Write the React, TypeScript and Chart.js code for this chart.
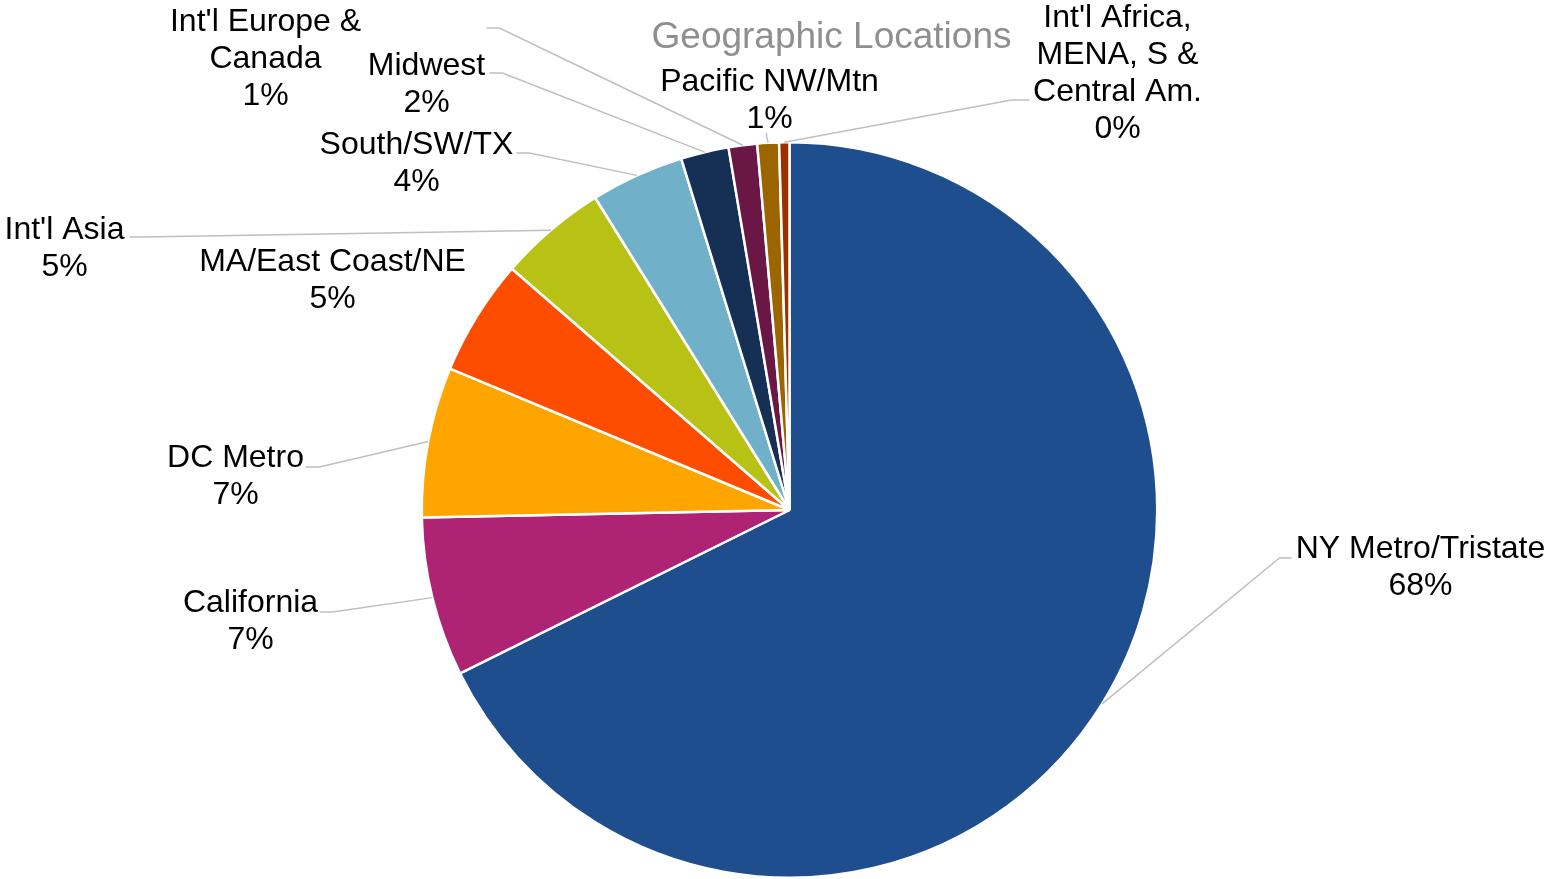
import React, { useEffect, useRef } from "react";
import { Chart, registerables } from "chart.js";

Chart.register(...registerables);

const categories: string[][] = [
  ["NY Metro/Tristate"],
  ["California"],
  ["DC Metro"],
  ["MA/East Coast/NE"],
  ["Int'l Asia"],
  ["South/SW/TX"],
  ["Midwest"],
  ["Int'l Europe &", "Canada"],
  ["Pacific NW/Mtn"],
  ["Int'l Africa,", "MENA, S &", "Central Am."],
];

const shares: number[] = [67.6, 7.0, 6.6, 5.1, 4.75, 4.1, 2.1, 1.25, 0.95, 0.45];

const sliceColors: string[] = [
  "#1F4E8F",
  "#AE2373",
  "#FFA500",
  "#FF4D00",
  "#B8C214",
  "#70B0C8",
  "#152F55",
  "#6A1746",
  "#9C6500",
  "#9C3000",
];

const chartTitle = "Geographic Locations";

// Label layout relative to pie centre: text centre (tx, first line y), leader stub (sx1,sy1)->(sx2,sy2)
type LabelLayout = { tx: number; ty: number; stub: number[] | null };
const labelLayout: LabelLayout[] = [
  { tx: 631, ty: 39, stub: [502, 48, 490, 48] },
  { tx: -539, ty: 93, stub: [-470, 102, -457, 102] },
  { tx: -554, ty: -52, stub: [-484, -43, -470, -43] },
  { tx: -457, ty: -248, stub: null },
  { tx: -725, ty: -280, stub: [-660, -273, -648, -273] },
  { tx: -373, ty: -365, stub: [-273, -357, -260, -357] },
  { tx: -363, ty: -444, stub: [-300, -437, -287, -437] },
  { tx: -524, ty: -488, stub: [-303, -482, -290, -482] },
  { tx: -20, ty: -428, stub: [-23, -377, -23, -374] },
  { tx: 328, ty: -492, stub: [240, -410, 222, -410] },
];

const FONT = "'Liberation Sans', Arial, sans-serif";

const labelPlugin = {
  id: "pieLabels",
  afterDraw(chart: any) {
    const ctx = chart.ctx;
    const meta = chart.getDatasetMeta(0);
    const total = shares.reduce((a, b) => a + b, 0);
    ctx.save();
    // title
    ctx.fillStyle = "#8F8F8F";
    ctx.font = `37px ${FONT}`;
    ctx.textAlign = "center";
    ctx.textBaseline = "middle";
    const first = meta.data[0];
    const cx = first.x;
    const cy = first.y;
    ctx.fillText(chartTitle, cx + 42, cy - 472);

    meta.data.forEach((arc: any, i: number) => {
      const { x, y, startAngle, endAngle, outerRadius } = arc.getProps(
        ["x", "y", "startAngle", "endAngle", "outerRadius"],
        true
      );
      const lay = labelLayout[i];
      const mid = (startAngle + endAngle) / 2;
      const px = x + Math.cos(mid) * outerRadius;
      const py = y + Math.sin(mid) * outerRadius;
      if (lay.stub) {
        ctx.strokeStyle = "#BFBFBF";
        ctx.lineWidth = 1.5;
        ctx.beginPath();
        ctx.moveTo(x + lay.stub[0], y + lay.stub[1]);
        ctx.lineTo(x + lay.stub[2], y + lay.stub[3]);
        ctx.lineTo(px, py);
        ctx.stroke();
      }
      const lines = [...categories[i], Math.round((shares[i] / total) * 100) + "%"];
      ctx.fillStyle = "#000000";
      ctx.font = `32px ${FONT}`;
      ctx.textAlign = "center";
      ctx.textBaseline = "middle";
      lines.forEach((t, k) => {
        ctx.fillText(t, x + lay.tx, y + lay.ty + k * 37);
      });
    });
    ctx.restore();
  },
};

export default function App() {
  const ref = useRef<HTMLCanvasElement | null>(null);
  useEffect(() => {
    if (!ref.current) return;
    const chart = new Chart(ref.current, {
      type: "pie",
      data: {
        labels: categories.map((c) => c.join(" ")),
        datasets: [
          {
            data: shares,
            backgroundColor: sliceColors,
            borderColor: "#FFFFFF",
            borderWidth: 2.5,
          },
        ],
      },
      options: {
        animation: false,
        responsive: true,
        maintainAspectRatio: false,
        layout: { padding: { left: 420, right: 388, top: 141, bottom: 0 } },
        plugins: {
          legend: { display: false },
          tooltip: { enabled: false },
          title: { display: false },
        },
      },
      plugins: [labelPlugin],
    });
    return () => chart.destroy();
  }, []);
  return (
    <div
      style={{
        position: "fixed",
        left: 0,
        top: 0,
        width: 1547,
        height: 879,
        background: "#FFFFFF",
      }}
    >
      <canvas ref={ref} />
    </div>
  );
}
